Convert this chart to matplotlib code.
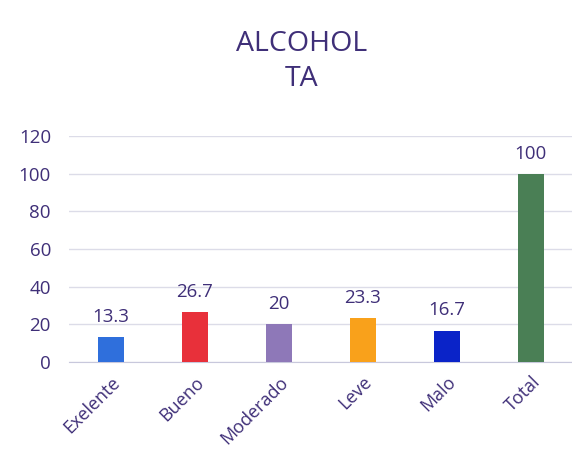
import numpy as np
import matplotlib.pyplot as plt

categories = ['Exelente', 'Bueno', 'Moderado', 'Leve', 'Malo', 'Total']
values = [13.3, 26.7, 20, 23.3, 16.7, 100]
labels = ['13.3', '26.7', '20', '23.3', '16.7', '100']
colors = ['#2f6fdc', '#e8303a', '#8e78b8', '#f9a11b', '#0a23c8', '#4a7f55']
yticks = [0, 20, 40, 60, 80, 100, 120]

txt = '#3f2f78'
plt.rcParams['font.family'] = ['Open Sans', 'DejaVu Sans']

fig = plt.figure(figsize=(5.72, 4.53), dpi=100)
ax = fig.add_axes((0.1206, 0.2009, 0.881, 0.4989))

x = np.arange(len(categories))
bars = ax.bar(x, values, width=0.31, color=colors, zorder=3)
for b, lab in zip(bars, labels):
    ax.annotate(lab, (b.get_x() + b.get_width() / 2, b.get_height()),
                xytext=(0, 8), textcoords='offset points',
                ha='center', va='bottom', fontsize=13.5, color=txt)

ax.set_xlim(-0.5, len(categories) - 0.5)
ax.set_ylim(0, 120)
ax.set_yticks(yticks)
ax.set_xticks(x)
ax.set_xticklabels(categories, rotation=45, ha='right', rotation_mode='anchor',
                   fontsize=13, color=txt)
ax.tick_params(axis='y', length=0, pad=13, labelsize=13.5, labelcolor=txt)
ax.tick_params(axis='x', length=0, pad=8)
ax.yaxis.grid(True, color='#dcdce8', linewidth=1, zorder=0)
for s in ['top', 'right', 'left']:
    ax.spines[s].set_visible(False)
ax.spines['bottom'].set_color('#c8c8dc')

fig.text(0.528, 0.903, 'ALCOHOL', ha='center', va='center', fontsize=20.5, color=txt)
fig.text(0.528, 0.826, 'TA', ha='center', va='center', fontsize=20.5, color=txt)

fig.savefig('out.png', dpi=100, facecolor='white')
